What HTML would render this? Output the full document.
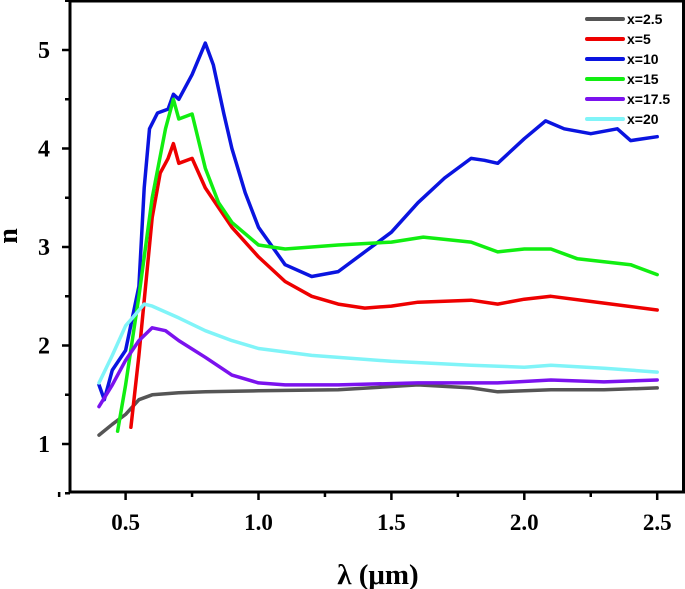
<!DOCTYPE html>
<html><head><meta charset="utf-8"><style>
html,body{margin:0;padding:0;background:#fff;}
svg{display:block;font-family:"Liberation Serif",serif;font-weight:bold;}
</style></head><body>
<svg id="chart" width="685" height="589"></svg>
<script>
const seriesNames=["x=2.5","x=5","x=10","x=15","x=17.5","x=20"];
const seriesColors=["#555555","#ee0000","#0a14e0","#11ee11","#7b12ee","#80f4f8"];
const lam25=[0.40,0.45,0.5,0.55,0.6,0.7,0.8,1.0,1.3,1.6,1.8,1.9,2.1,2.3,2.5];
const n25=[1.09,1.2,1.3,1.45,1.5,1.52,1.53,1.54,1.55,1.6,1.57,1.53,1.55,1.55,1.57];
const lam5=[0.52,0.55,0.6,0.63,0.66,0.68,0.7,0.75,0.8,0.85,0.9,1.0,1.1,1.2,1.3,1.4,1.5,1.6,1.8,1.9,2.0,2.1,2.3,2.5];
const n5=[1.17,1.9,3.3,3.75,3.9,4.05,3.85,3.9,3.6,3.4,3.2,2.9,2.65,2.5,2.42,2.38,2.4,2.44,2.46,2.42,2.47,2.5,2.43,2.36];
const lam10=[0.40,0.42,0.45,0.5,0.55,0.57,0.59,0.62,0.66,0.68,0.7,0.75,0.8,0.83,0.87,0.9,0.95,1.0,1.1,1.2,1.3,1.4,1.5,1.6,1.7,1.8,1.85,1.9,2.0,2.08,2.15,2.25,2.35,2.4,2.5];
const n10=[1.6,1.45,1.75,1.95,2.6,3.6,4.2,4.36,4.4,4.55,4.5,4.75,5.07,4.85,4.35,4.0,3.55,3.2,2.82,2.7,2.75,2.95,3.15,3.45,3.7,3.9,3.88,3.85,4.1,4.28,4.2,4.15,4.2,4.08,4.12];
const lam15=[0.47,0.5,0.55,0.6,0.65,0.68,0.7,0.75,0.8,0.85,0.9,1.0,1.1,1.3,1.5,1.62,1.8,1.9,2.0,2.1,2.2,2.4,2.5];
const n15=[1.13,1.6,2.5,3.5,4.2,4.5,4.3,4.35,3.8,3.45,3.25,3.02,2.98,3.02,3.05,3.1,3.05,2.95,2.98,2.98,2.88,2.82,2.72];
const lam175=[0.40,0.45,0.5,0.55,0.6,0.65,0.7,0.8,0.9,1.0,1.1,1.3,1.6,1.9,2.1,2.3,2.5];
const n175=[1.38,1.6,1.85,2.05,2.18,2.15,2.05,1.88,1.7,1.62,1.6,1.6,1.62,1.62,1.65,1.63,1.65];
const lam20=[0.40,0.45,0.5,0.57,0.6,0.7,0.8,0.9,1.0,1.2,1.5,1.8,2.0,2.1,2.3,2.5];
const n20=[1.62,1.9,2.2,2.42,2.4,2.28,2.15,2.05,1.97,1.9,1.84,1.8,1.78,1.8,1.77,1.73];
const xTicks=["0.5","1.0","1.5","2.0","2.5"];
const yTicks=["1","2","3","4","5"];
const lams=[lam25,lam5,lam10,lam15,lam175,lam20];
const ns=[n25,n5,n10,n15,n175,n20];

const NS="http://www.w3.org/2000/svg";
const svg=document.getElementById('chart');
const L=70,R=685,T=1,B=492;
const X=v=>125.6+(v-0.5)*265.8;
const Y=v=>444-(v-1)*98.5;
function mk(t,a,p){const e=document.createElementNS(NS,t);for(const k in a)e.setAttribute(k,a[k]);(p||svg).appendChild(e);return e;}
const fr=mk('rect',{x:L,y:T,width:R-L-1.5,height:B-T,fill:'none',stroke:'#000','stroke-width':3});


for(let s=0;s<6;s++){
  const pts=lams[s].map((l,i)=>X(l).toFixed(1)+','+Y(ns[s][i]).toFixed(1)).join(' ');
  const pl=mk('polyline',{points:pts,fill:'none',stroke:seriesColors[s],'stroke-width':3.5,'stroke-linejoin':'round','stroke-linecap':'round'});
  
  
}
for(let i=0;i<xTicks.length;i++){
  const v=parseFloat(xTicks[i]);
  mk('line',{x1:X(v),x2:X(v),y1:B,y2:B+8,stroke:'#000','stroke-width':2.5});
  const t=mk('text',{x:X(v),y:B+38,'text-anchor':'middle','font-size':23});
  t.textContent=xTicks[i];
  
  
  if(v<2.5) mk('line',{x1:X(v+0.25),x2:X(v+0.25),y1:B,y2:B+5,stroke:'#000','stroke-width':2.5});
}
mk('line',{x1:X(0.25),x2:X(0.25),y1:B,y2:B+5,stroke:'#000','stroke-width':2.5});
for(let i=0;i<yTicks.length;i++){
  const v=parseFloat(yTicks[i]);
  mk('line',{x1:L-8,x2:L,y1:Y(v),y2:Y(v),stroke:'#000','stroke-width':2.5});
  mk('line',{x1:L-5,x2:L,y1:Y(v+0.5),y2:Y(v+0.5),stroke:'#000','stroke-width':2.5});
  const t=mk('text',{x:44,y:Y(v)+8,'text-anchor':'middle','font-size':24});
  t.textContent=yTicks[i];
  
  
}
mk('line',{x1:L-5,x2:L,y1:Y(0.5),y2:Y(0.5),stroke:'#000','stroke-width':2.5});
const xt=mk('text',{x:378,y:584,'text-anchor':'middle','font-size':29});
xt.textContent='λ (μm)';


const yt=mk('text',{x:0,y:0,'text-anchor':'middle','font-size':28,transform:'translate(17,236) rotate(-90)'});
yt.textContent='n';


for(let s=0;s<6;s++){
  const y=19+s*20;
  const g=mk('g',{});
  
  
  mk('line',{x1:587,x2:623,y1:y,y2:y,stroke:seriesColors[s],'stroke-width':4,'stroke-linecap':'round'},g);
  const t=mk('text',{x:627,y:y+5,'font-size':14,'font-family':'Liberation Sans, sans-serif'},g);
  t.textContent=seriesNames[s];
}
</script>
</body></html>
